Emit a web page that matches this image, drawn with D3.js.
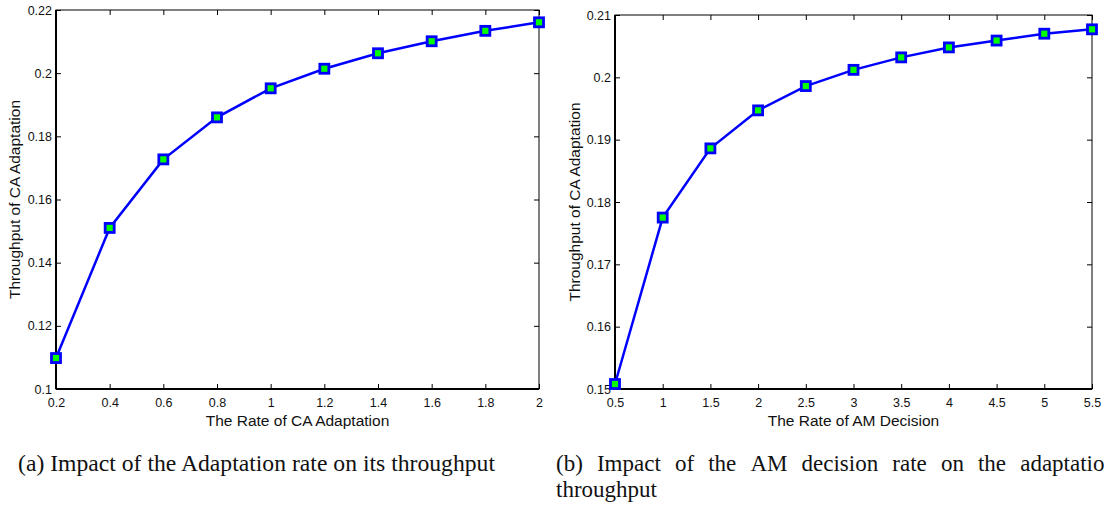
<!DOCTYPE html>
<html><head><meta charset="utf-8">
<script src="https://cdn.jsdelivr.net/npm/d3@7"></script>
<style>body{margin:0;background:#fff}svg{display:block}</style>
</head><body>
<svg id="c" width="1104" height="506"></svg>
<script>
// Panel (a)
const rateCA = [0.2,0.4,0.6,0.8,1.0,1.2,1.4,1.6,1.8,2.0];
const thrA = [0.1098,0.1510,0.1727,0.1860,0.1952,0.2014,0.2063,0.2101,0.2134,0.2161];
const xTicksA = [0.2,0.4,0.6,0.8,1,1.2,1.4,1.6,1.8,2];
const yTicksA = [0.1,0.12,0.14,0.16,0.18,0.2,0.22];
// Panel (b)
const rateAM = [0.5,1,1.5,2,2.5,3,3.5,4,4.5,5,5.5];
const thrB = [0.1508,0.1775,0.1886,0.1947,0.1986,0.2012,0.2032,0.2048,0.2059,0.2070,0.2077];
const xTicksB = [0.5,1,1.5,2,2.5,3,3.5,4,4.5,5,5.5];
const yTicksB = [0.15,0.16,0.17,0.18,0.19,0.2,0.21];
const captionA = "(a) Impact of the Adaptation rate on its throughput";
const captionB1 = "(b) Impact of the AM decision rate on the adaptation";
const captionB2 = "throughput";

const svg = d3.select("#c");
const sans = "'Liberation Sans',Arial,Helvetica,sans-serif";
const serif = "'Liberation Serif','Times New Roman',serif";

function panel(o){
  const g = svg.append("g");
  const x = d3.scaleLinear().domain(o.xd).range([o.l,o.r]);
  const y = d3.scaleLinear().domain(o.yd).range([o.b,o.t]);
  const tl = 5;
  const ax = [
    {a:d3.axisBottom(x).tickValues(o.xt).tickFormat(d3.format("~g")).tickSizeInner(-tl).tickSizeOuter(0).tickPadding(9), tr:`translate(0,${o.b})`},
    {a:d3.axisTop(x).tickValues(o.xt).tickFormat("").tickSizeInner(-tl).tickSizeOuter(0), tr:`translate(0,${o.t})`},
    {a:d3.axisLeft(y).tickValues(o.yt).tickFormat(d3.format("~g")).tickSizeInner(-tl).tickSizeOuter(0).tickPadding(4), tr:`translate(${o.l},0)`},
    {a:d3.axisRight(y).tickValues(o.yt).tickFormat("").tickSizeInner(-tl).tickSizeOuter(0), tr:`translate(${o.r},0)`}
  ];
  ax.forEach(d=>{
    const s = g.append("g").attr("transform",d.tr).call(d.a);
    s.select(".domain").remove();
    s.selectAll("line").attr("stroke","#000").attr("stroke-width",1);
    s.selectAll("text").attr("fill","#111").style("font-family",sans).style("font-size","12.5px");
  });
  g.append("rect").attr("x",o.l).attr("y",o.t).attr("width",o.r-o.l).attr("height",o.b-o.t)
    .attr("fill","none").attr("stroke","#000").attr("stroke-width",1);
  g.append("line").attr("x1",o.l).attr("x2",o.r).attr("y1",o.b).attr("y2",o.b).attr("stroke","#000").attr("stroke-width",2);
  g.append("line").attr("x1",o.l).attr("x2",o.l).attr("y1",o.t).attr("y2",o.b).attr("stroke","#000").attr("stroke-width",2);
  const pts = o.xs.map((v,i)=>[v,o.ys[i]]);
  g.append("path").datum(pts).attr("fill","none").attr("stroke","#0000ff").attr("stroke-width",2.5)
    .attr("d",d3.line().x(d=>x(d[0])).y(d=>y(d[1])));
  const m = 9;
  g.selectAll("rect.mk").data(pts).join("rect").attr("class","mk")
    .attr("x",d=>x(d[0])-m/2).attr("y",d=>y(d[1])-m/2).attr("width",m).attr("height",m)
    .attr("fill","#00ff00").attr("stroke","#0000ff").attr("stroke-width",2.8);
  g.append("text").attr("x",(o.l+o.r)/2).attr("y",o.b+37).attr("text-anchor","middle")
    .style("font-family",sans).style("font-size","15.5px").attr("fill","#111").text(o.xl);
  g.append("text").attr("transform",`translate(${o.yx},${(o.t+o.b)/2}) rotate(-90)`).attr("text-anchor","middle")
    .style("font-family",sans).style("font-size","15.5px").attr("fill","#111").text(o.yl);
}

panel({xd:[0.2,2],yd:[0.1,0.22],l:56,r:539,t:10,b:389,xt:xTicksA,yt:yTicksA,xs:rateCA,ys:thrA,
  xl:"The Rate of CA Adaptation",yl:"Throughput of CA Adaptation",yx:20});
panel({xd:[0.5,5.5],yd:[0.15,0.21],l:615,r:1092,t:15,b:389,xt:xTicksB,yt:yTicksB,xs:rateAM,ys:thrB,
  xl:"The Rate of AM Decision",yl:"Throughput of CA Adaptation",yx:580});

const capSize = "23px";
svg.append("text").attr("x",18).attr("y",471).style("font-family",serif).style("font-size",capSize).attr("fill","#111")
  .attr("textLength",477).attr("lengthAdjust","spacingAndGlyphs").text(captionA);
// justified first line of caption (b)
const words = captionB1.split(" ");
const lineL = 556, lineR = 1116;
const tmp = svg.append("g");
const widths = words.map(w=>{
  const t = tmp.append("text").style("font-family",serif).style("font-size",capSize).text(w);
  return t.node().getComputedTextLength();
});
tmp.remove();
const gap = (lineR-lineL-d3.sum(widths))/(words.length-1);
let cx = lineL;
words.forEach((w,i)=>{
  svg.append("text").attr("x",cx).attr("y",471).style("font-family",serif).style("font-size",capSize).attr("fill","#111").text(w);
  cx += widths[i]+gap;
});
svg.append("text").attr("x",556).attr("y",497).style("font-family",serif).style("font-size",capSize).attr("fill","#111")
  .text(captionB2);
</script>
</body></html>
